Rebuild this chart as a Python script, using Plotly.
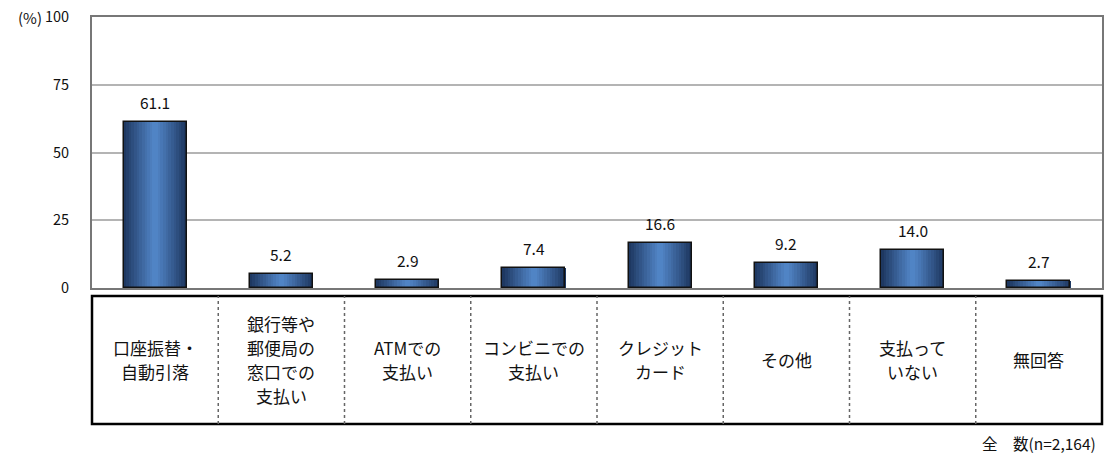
import plotly.graph_objects as go

# Payment methods (display lines) and share of respondents (%)
category_lines = [
    ["口座振替・", "自動引落"],
    ["銀行等や", "郵便局の", "窓口での", "支払い"],
    ["ATMでの", "支払い"],
    ["コンビニでの", "支払い"],
    ["クレジット", "カード"],
    ["その他"],
    ["支払って", "いない"],
    ["無回答"],
]
categories = ["".join(lines) for lines in category_lines]
values = [61.1, 5.2, 2.9, 7.4, 16.6, 9.2, 14.0, 2.7]
y_ticks = [0, 25, 50, 75, 100]
total_note = "全　数(n=2,164)"
unit_label = "(%)"

FONT = "Noto Sans CJK JP"
BAR_W = 0.5
N_STRIPES = 24
EDGE = (0x1c, 0x34, 0x5c)
CENTER = (0x52, 0x86, 0xc8)
LINE_PITCH = 24  # px between label lines in the table


def shade(t):
    # t = 0 at the bar centre, 1 at its edges
    m = min(1.0, t ** 1.1)
    r, g, b = (round(c + (e - c) * m) for c, e in zip(CENTER, EDGE))
    return f"rgb({r},{g},{b})"


fig = go.Figure()

# Cylinder-like shading: thin vertical slices of each bar
step = BAR_W / N_STRIPES
for i in range(N_STRIPES):
    mid = -BAR_W / 2 + (i + 0.5) * step
    t = abs(mid) / (BAR_W / 2)
    fig.add_trace(go.Bar(
        x=categories, y=values, width=step * 1.05, offset=-BAR_W / 2 + i * step,
        marker=dict(color=shade(t), line=dict(width=0)),
        hoverinfo="skip", showlegend=False,
    ))

# Outline of each bar
fig.add_trace(go.Bar(
    x=categories, y=values, width=BAR_W, offset=-BAR_W / 2,
    marker=dict(color="rgba(0,0,0,0)", line=dict(color="#111111", width=1.5)),
    showlegend=False,
))

annotations = []
for cat, v in zip(categories, values):
    annotations.append(dict(
        x=cat, y=v, xref="x", yref="y", text=f"{v:.1f}", showarrow=False,
        yanchor="middle", yshift=20, font=dict(family=FONT, size=15.5, color="#111111"),
    ))

# Category labels inside the table under the chart, one annotation per line
TABLE_TOP = -0.0295
TABLE_BOTTOM = -0.5018
table_mid = (TABLE_TOP + TABLE_BOTTOM) / 2
for cat, lines in zip(categories, category_lines):
    k = len(lines)
    for j, line in enumerate(lines):
        annotations.append(dict(
            x=cat, y=table_mid, xref="x", yref="paper",
            text=line, showarrow=False, align="center",
            xanchor="center", yanchor="middle",
            yshift=-(j - (k - 1) / 2) * LINE_PITCH,
            font=dict(family=FONT, size=17, color="#111111"),
        ))

annotations.append(dict(
    x=0.996, y=-0.572, xref="paper", yref="paper", text=total_note,
    showarrow=False, xanchor="right", yanchor="middle",
    font=dict(family=FONT, size=15.5, color="#111111"),
))
annotations.append(dict(
    x=-0.0475, y=1.0, xref="paper", yref="paper", text=unit_label,
    showarrow=False, xanchor="right", yanchor="middle",
    font=dict(family=FONT, size=15, color="#111111"),
))

shapes = [dict(
    type="rect", xref="paper", yref="paper", x0=0, x1=1,
    y0=TABLE_BOTTOM, y1=TABLE_TOP, line=dict(color="#000000", width=2.5),
)]
n = len(categories)
for i in range(1, n):
    shapes.append(dict(
        type="line", xref="paper", yref="paper", x0=i / n, x1=i / n,
        y0=TABLE_BOTTOM, y1=TABLE_TOP, line=dict(color="#666666", width=1.5, dash="dot"),
    ))

fig.update_layout(
    width=1107, height=459,
    margin=dict(l=92, r=3, t=17, b=171),
    paper_bgcolor="white", plot_bgcolor="white",
    barmode="overlay", bargap=0,
    showlegend=False,
    font=dict(family=FONT, size=14, color="#111111"),
    xaxis=dict(
        type="category", showticklabels=False, ticks="",
        showline=True, mirror=True, linecolor="#777777", linewidth=2,
        showgrid=False, zeroline=False,
    ),
    yaxis=dict(
        range=[0, 100], tickvals=y_ticks, ticktext=[str(t) for t in y_ticks],
        showline=True, mirror=True, linecolor="#777777", linewidth=2,
        showgrid=True, gridcolor="#b4b4b4", gridwidth=1.5, zeroline=False,
        ticks="", ticklabelstandoff=18, tickfont=dict(family=FONT, size=14.5),
    ),
    annotations=annotations,
    shapes=shapes,
)

fig.write_html("out.html")
